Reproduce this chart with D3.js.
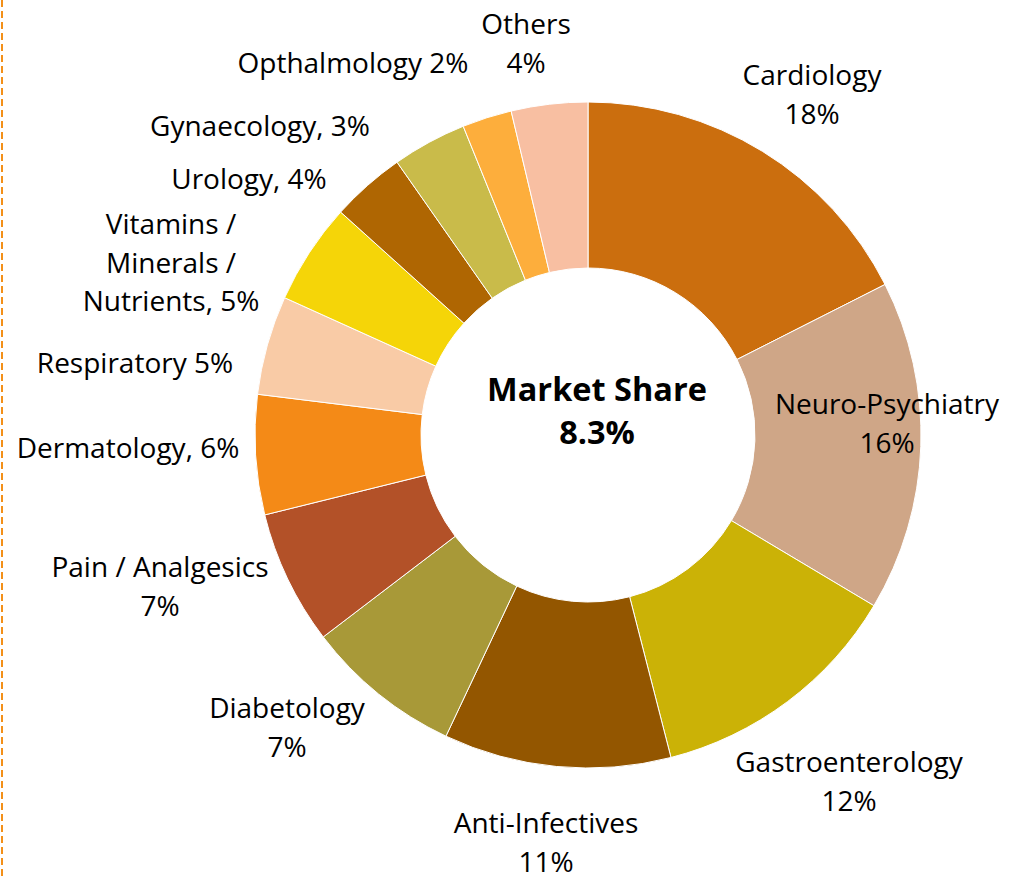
<!DOCTYPE html>
<html>
<head>
<meta charset="utf-8">
<script src="https://cdn.jsdelivr.net/npm/d3@7/dist/d3.min.js"></script>
<style>
  body { margin: 0; background: #fff; }
  text { font-family: "Open Sans", "Noto Sans", sans-serif; fill: #000; }
</style>
</head>
<body>
<div id="chart"></div>
<script>
// therapy areas, clockwise from 12 o'clock
var categories = ["Cardiology", "Neuro-Psychiatry", "Gastroenterology", "Anti-Infectives",
  "Diabetology", "Pain / Analgesics", "Dermatology", "Respiratory",
  "Vitamins / Minerals / Nutrients", "Urology", "Gynaecology", "Opthalmology", "Others"];
// share
var shares = [17.5, 16.0, 12.4, 11.0, 7.6, 6.5, 5.8, 4.8, 4.9, 3.6, 3.6, 2.4, 3.7];
// label text as printed on the chart
var labelLines = [
  ["Cardiology", "18%"],
  ["Neuro-Psychiatry", "16%"],
  ["Gastroenterology", "12%"],
  ["Anti-Infectives", "11%"],
  ["Diabetology", "7%"],
  ["Pain / Analgesics", "7%"],
  ["Dermatology, 6%"],
  ["Respiratory 5%"],
  ["Vitamins /", "Minerals /", "Nutrients, 5%"],
  ["Urology, 4%"],
  ["Gynaecology, 3%"],
  ["Opthalmology 2%"],
  ["Others", "4%"]
];
var colors = ["#cb6e0e", "#cfa687", "#cbb206", "#935600", "#a89938", "#b35128", "#f48a17",
  "#f9cba6", "#f5d508", "#af6602", "#c9bb4a", "#fdae3c", "#f8bfa2"];
var centerTitle = "Market Share";
var centerValue = "8.3%";

// label anchors (cap centre of first line), placed by hand like the original
var labelAt = [[812, 75], [887, 404], [849, 762], [546, 823], [287, 708], [160, 567],
  [128, 448], [135, 363], [171, 224], [249, 179], [260, 126], [353, 63], [526, 24]];

var width = 1016, height = 876;
var cx = 588, cy = 435, outerR = 333, innerR = 167;
var lineH = 38.7;

var svg = d3.select("#chart").append("svg")
  .attr("width", width)
  .attr("height", height);

// dashed frame edge on the left
svg.append("line")
  .attr("x1", 2).attr("x2", 2)
  .attr("y1", 0).attr("y2", height)
  .attr("stroke", "#f39019")
  .attr("stroke-width", 2)
  .attr("stroke-dasharray", "7,4");

var pie = d3.pie().sort(null).value(function(d) { return d; });
var arc = d3.arc().innerRadius(innerR).outerRadius(outerR);

var g = svg.append("g").attr("transform", "translate(" + cx + "," + cy + ")");

g.selectAll("path")
  .data(pie(shares))
  .enter().append("path")
  .attr("d", arc)
  .attr("fill", function(d, i) { return colors[i]; })
  .attr("stroke", "#fff")
  .attr("stroke-width", 1);

var labels = svg.selectAll("text.label")
  .data(labelLines)
  .enter().append("text")
  .attr("class", "label")
  .attr("text-anchor", "middle")
  .attr("font-size", 28)
  .attr("transform", function(d, i) { return "translate(" + labelAt[i][0] + "," + labelAt[i][1] + ")"; });

labels.selectAll("tspan")
  .data(function(d) { return d; })
  .enter().append("tspan")
  .attr("x", 0)
  .attr("y", function(d, j) { return j * lineH; })
  .attr("dy", "0.357em")
  .text(function(d) { return d; });

svg.append("text")
  .attr("x", 597).attr("y", 389)
  .attr("dy", "0.357em")
  .attr("text-anchor", "middle")
  .attr("font-size", 32.5)
  .attr("font-weight", "bold")
  .text(centerTitle);
svg.append("text")
  .attr("x", 597).attr("y", 432)
  .attr("dy", "0.357em")
  .attr("text-anchor", "middle")
  .attr("font-size", 32.5)
  .attr("font-weight", "bold")
  .text(centerValue);
</script>
</body>
</html>
